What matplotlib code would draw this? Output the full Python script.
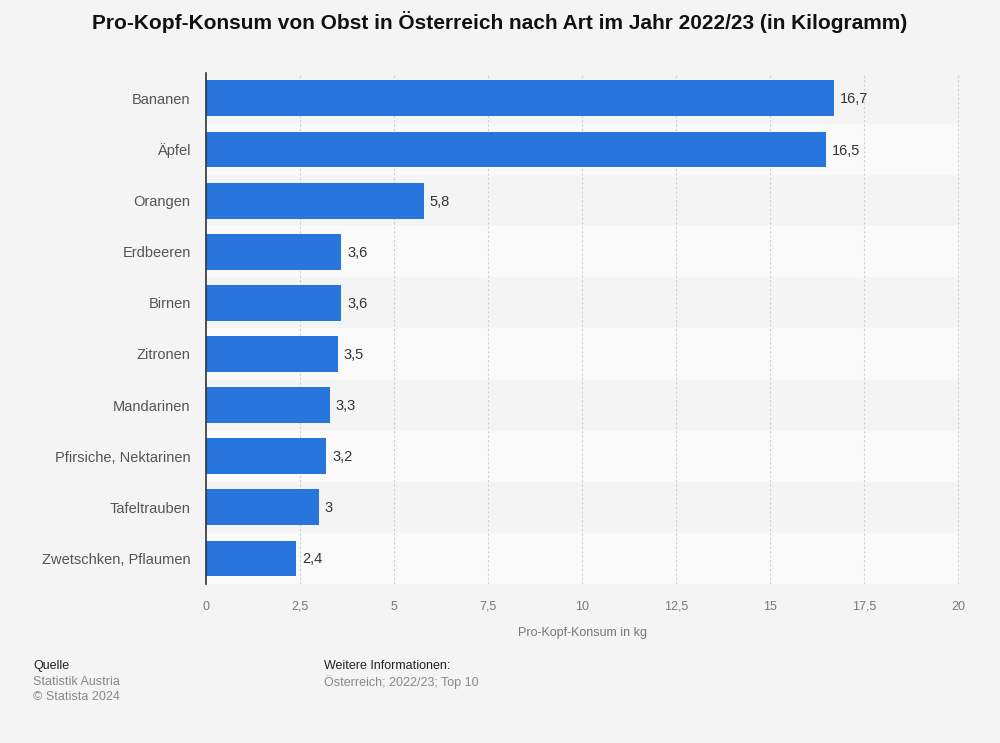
import numpy as np
import matplotlib.pyplot as plt

plt.rcParams['font.family'] = ['Liberation Sans', 'DejaVu Sans']

sorten = ['Bananen', 'Äpfel', 'Orangen', 'Erdbeeren', 'Birnen', 'Zitronen',
          'Mandarinen', 'Pfirsiche, Nektarinen', 'Tafeltrauben', 'Zwetschken, Pflaumen']
konsum = [16.7, 16.5, 5.8, 3.6, 3.6, 3.5, 3.3, 3.2, 3.0, 2.4]
xticks = [0, 2.5, 5, 7.5, 10, 12.5, 15, 17.5, 20]
xticklabels = ['0', '2,5', '5', '7,5', '10', '12,5', '15', '17,5', '20']

fig = plt.figure(figsize=(10, 7.43), dpi=100)
fig.patch.set_facecolor('#f4f4f4')
ax = fig.add_axes([0.206, 0.214, 0.754, 0.688])
ax.set_facecolor('#f4f4f4')

n = len(sorten)
y = np.arange(n)
# abwechselnde Zeilen
for i in y:
    if i % 2 == 1:
        ax.axhspan(i - 0.5, i + 0.5, color='#fafafa', zorder=0, lw=0)

for xt in xticks[1:]:
    ax.axvline(xt, color='#cfcfcf', lw=0.8, ls=(0, (2, 2)), zorder=1)

ax.barh(y, konsum, height=0.7, color='#2876dd', zorder=2)
for yi, v in zip(y, konsum):
    txt = ('%g' % v).replace('.', ',')
    ax.text(v + 0.15, yi + 0.02, txt, va='center', ha='left', fontsize=10.5, color='#333333', zorder=3)

ax.set_ylim(n - 0.5, -0.5)
ax.set_xlim(0, 20.05)
ax.set_yticks(y)
ax.set_yticklabels(sorten, fontsize=10.5, color='#555555')
ax.set_xticks(xticks)
ax.set_xticklabels(xticklabels, fontsize=9, color='#777777')
ax.tick_params(axis='both', length=0)
ax.tick_params(axis='y', pad=11)
ax.tick_params(axis='x', pad=12)
ax.set_xlabel('Pro-Kopf-Konsum in kg', fontsize=9, color='#777777', labelpad=10)

for s in ['top', 'right', 'bottom']:
    ax.spines[s].set_visible(False)
ax.spines['left'].set_color('#333333')
ax.spines['left'].set_linewidth(1.2)
ax.spines['left'].set_zorder(4)

fig.text(0.5, 0.97, 'Pro-Kopf-Konsum von Obst in Österreich nach Art im Jahr 2022/23 (in Kilogramm)',
         ha='center', va='center', fontsize=15, fontweight='bold', color='#111111')

fig.text(0.033, 0.103, 'Quelle', fontsize=9, color='#222222', va='center')
fig.text(0.033, 0.082, 'Statistik Austria', fontsize=9, color='#888888', va='center')
fig.text(0.033, 0.062, '© Statista 2024', fontsize=9, color='#888888', va='center')
fig.text(0.324, 0.103, 'Weitere Informationen:', fontsize=9, color='#222222', va='center')
fig.text(0.324, 0.082, 'Österreich; 2022/23; Top 10', fontsize=9, color='#888888', va='center')

fig.savefig('out.png', dpi=100, facecolor=fig.get_facecolor())
